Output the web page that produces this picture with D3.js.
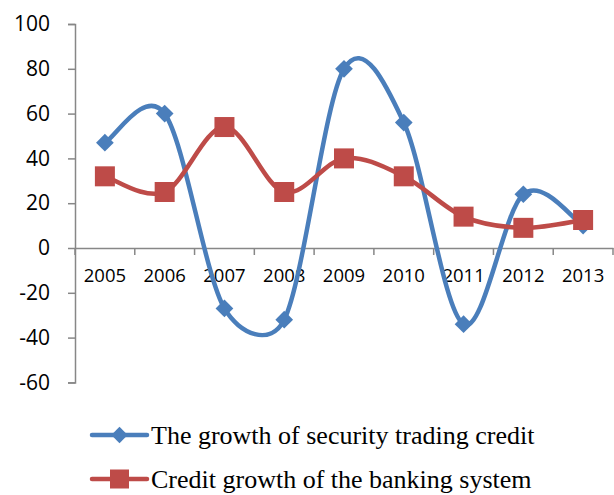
<!DOCTYPE html>
<html>
<head>
<meta charset="utf-8">
<script src="https://cdn.jsdelivr.net/npm/d3@7"></script>
<style>
html,body{margin:0;padding:0;background:#fff;}
svg{display:block;}
</style>
</head>
<body>
<svg id="chart" width="614" height="495"></svg>
<script>
const years = ["2005","2006","2007","2008","2009","2010","2011","2012","2013"];
const securityCredit = [47, 60, -27, -32, 80, 56, -34, 24, 10];
const bankCredit = [32, 25, 54, 25, 40, 32, 14, 9, 12.5];
const yTicks = [-60, -40, -20, 0, 20, 40, 60, 80, 100];
const seriesNames = ["The growth of security trading credit", "Credit growth of the banking system"];
const seriesColors = ["#4A7EBB", "#BE4B48"];

const svg = d3.select("#chart");
const x = d3.scaleBand().domain(years).range([75, 613]);
const y = d3.scaleLinear().domain([-60, 100]).range([382.4, 24]);
const axisColor = "#878787";

// Y axis
const yAxis = svg.append("g").attr("transform", "translate(75,0)")
  .call(d3.axisLeft(y).tickValues(yTicks).tickSize(7).tickPadding(18).tickFormat(d3.format("d")));
yAxis.select(".domain").attr("stroke", axisColor).attr("stroke-width", 1.5);
yAxis.selectAll(".tick line").attr("stroke", axisColor).attr("stroke-width", 1.5);
yAxis.selectAll(".tick text").attr("font-family", "'Open Sans'").attr("font-size", 21).attr("fill", "#000")
  .text(d => d < 0 ? "-" + Math.abs(d) : d);

// X axis at zero
const xAxis = svg.append("g").attr("transform", `translate(0,${y(0)})`)
  .call(d3.axisBottom(x).tickSize(0).tickPadding(21));
xAxis.select(".domain").attr("stroke", axisColor).attr("stroke-width", 1.5);
xAxis.selectAll(".tick text").attr("font-family", "'Open Sans'").attr("font-size", 18.5).attr("fill", "#000");
const bounds = years.map(d => x(d)).concat([x.range()[1]]);
svg.append("g").selectAll("line").data(bounds).join("line")
  .attr("x1", d => d).attr("x2", d => d)
  .attr("y1", y(0)).attr("y2", y(0) + 7)
  .attr("stroke", axisColor).attr("stroke-width", 1.5);

const cx = d => x(d) + x.bandwidth() / 2;

// Excel-like smoothing: Bezier, tangent (P[i+1]-P[i-1])/6, arm clamped to half of segment length
function smoothPath(pts) {
  const p = d3.path();
  const n = pts.length;
  const arm = (i) => {
    const a = pts[Math.max(0, i - 1)], b = pts[Math.min(n - 1, i + 1)];
    return [(b[0] - a[0]) / 6, (b[1] - a[1]) / 6];
  };
  const clamp = (v, len) => {
    const l = Math.hypot(v[0], v[1]);
    const m = len / 2;
    return l > m ? [v[0] * m / l, v[1] * m / l] : v;
  };
  p.moveTo(pts[0][0], pts[0][1]);
  for (let i = 0; i < n - 1; i++) {
    const P1 = pts[i], P2 = pts[i + 1];
    const seg = Math.hypot(P2[0] - P1[0], P2[1] - P1[1]);
    const a1 = clamp(arm(i), seg), a2 = clamp(arm(i + 1), seg);
    p.bezierCurveTo(P1[0] + a1[0], P1[1] + a1[1], P2[0] - a2[0], P2[1] - a2[1], P2[0], P2[1]);
  }
  return p.toString();
}

const series = [securityCredit, bankCredit];
series.forEach((vals, i) => {
  const pts = years.map((yr, j) => [cx(yr), y(vals[j])]);
  svg.append("path").attr("d", smoothPath(pts)).attr("fill", "none")
    .attr("stroke", seriesColors[i]).attr("stroke-width", 4.5).attr("stroke-linejoin", "round");
  const g = svg.append("g");
  if (i === 0) {
    g.selectAll("path").data(pts).join("path")
      .attr("d", d3.symbol(d3.symbolDiamond2, 200)())
      .attr("transform", d => `translate(${d[0]},${d[1]})`)
      .attr("fill", seriesColors[i]);
  } else {
    g.selectAll("rect").data(pts).join("rect")
      .attr("x", d => d[0] - 10).attr("y", d => d[1] - 10)
      .attr("width", 20).attr("height", 20)
      .attr("fill", seriesColors[i]);
  }
});

// Legend
const legY = [435, 479];
seriesNames.forEach((name, i) => {
  const g = svg.append("g");
  g.append("line").attr("x1", 92).attr("x2", 147).attr("y1", legY[i]).attr("y2", legY[i])
    .attr("stroke", seriesColors[i]).attr("stroke-width", 4.5).attr("stroke-linecap", "round");
  if (i === 0) {
    g.append("path").attr("d", d3.symbol(d3.symbolDiamond2, 170)())
      .attr("transform", `translate(119.5,${legY[i]})`).attr("fill", seriesColors[i]);
  } else {
    g.append("rect").attr("x", 110).attr("y", legY[i] - 9.5).attr("width", 19).attr("height", 19)
      .attr("fill", seriesColors[i]);
  }
  g.append("text").attr("x", 151).attr("y", legY[i] + 8.5)
    .attr("font-family", "'Liberation Serif'").attr("font-size", 26).attr("fill", "#000")
    .text(name);
});
</script>
</body>
</html>
